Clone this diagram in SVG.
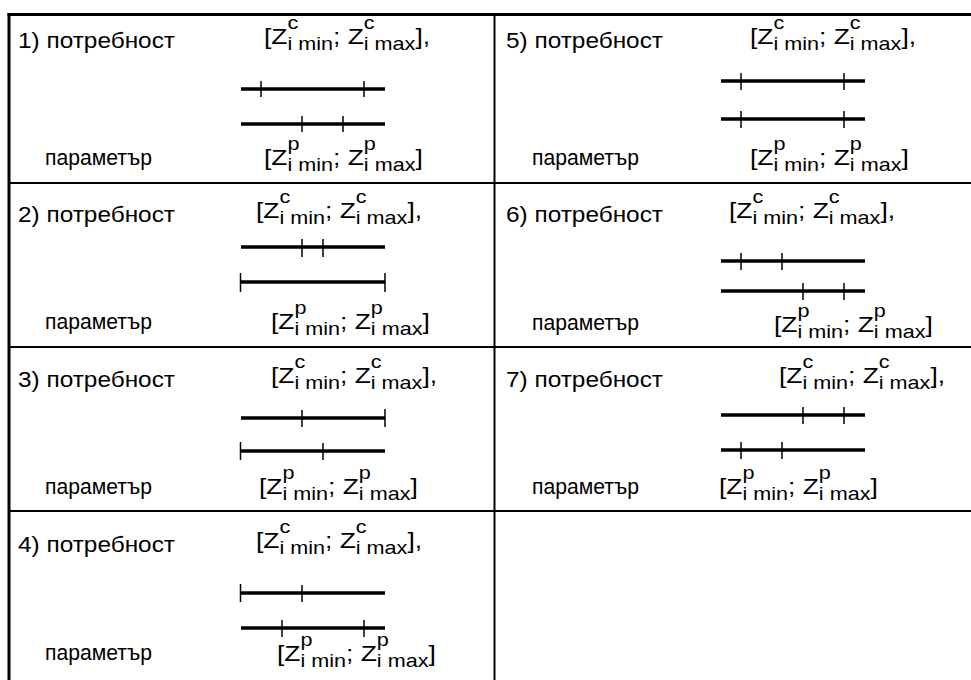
<svg xmlns="http://www.w3.org/2000/svg" width="971" height="680" viewBox="0 0 971 680">
<style>
.t{font-family:"Liberation Sans",Arial,sans-serif;font-size:22px;fill:#000}
.f{font-family:"Liberation Sans",Arial,sans-serif;font-size:22px;fill:#000}
.s{font-size:18px}
.bar{stroke:#000;stroke-width:3.5;fill:none}
.tk{stroke:#000;stroke-width:1.5;fill:none}
.g2{stroke:#000;stroke-width:2;fill:none}
.g3{stroke:#000;stroke-width:3;fill:none}
</style>
<rect x="0" y="0" width="971" height="680" fill="#fff"/>
<g id="grid">
<line class="g3" x1="7.5" y1="14.5" x2="971" y2="14.5"/>
<line class="g3" x1="9" y1="13" x2="9" y2="680"/>
<line class="g2" x1="8" y1="183" x2="971" y2="183"/>
<line class="g2" x1="8" y1="347" x2="971" y2="347"/>
<line class="g2" x1="8" y1="511" x2="971" y2="511"/>
<line class="g2" x1="494.5" y1="14" x2="494.5" y2="680"/>
</g>
<g id="cell1">
<text class="t" x="18" y="48" textLength="157" lengthAdjust="spacingAndGlyphs">1) потребност</text>
<text class="t" x="45" y="165" textLength="107" lengthAdjust="spacingAndGlyphs">параметър</text>
<text class="f" transform="translate(264,44) scale(1.2,1)">[Z<tspan class="s" dy="-15">c</tspan><tspan class="s" dx="-9" dy="21">i min</tspan><tspan dy="-6">; Z</tspan><tspan class="s" dy="-15">c</tspan><tspan class="s" dx="-9" dy="21">i max</tspan><tspan dy="-6">],</tspan></text>
<text class="f" transform="translate(264,165) scale(1.2,1)">[Z<tspan class="s" dy="-15">p</tspan><tspan class="s" dx="-10" dy="21">i min</tspan><tspan dy="-6">; Z</tspan><tspan class="s" dy="-15">p</tspan><tspan class="s" dx="-10" dy="21">i max</tspan><tspan dy="-6">]</tspan></text>
<line class="bar" x1="241" y1="89" x2="385" y2="89"/>
<line class="tk" x1="261" y1="81" x2="261" y2="97"/>
<line class="tk" x1="364" y1="81" x2="364" y2="97"/>
<line class="bar" x1="241" y1="124" x2="385" y2="124"/>
<line class="tk" x1="302" y1="116" x2="302" y2="132"/>
<line class="tk" x1="343" y1="116" x2="343" y2="132"/>
</g>
<g id="cell2">
<text class="t" x="18" y="222" textLength="157" lengthAdjust="spacingAndGlyphs">2) потребност</text>
<text class="t" x="45" y="329" textLength="107" lengthAdjust="spacingAndGlyphs">параметър</text>
<text class="f" transform="translate(256,218) scale(1.2,1)">[Z<tspan class="s" dy="-15">c</tspan><tspan class="s" dx="-9" dy="21">i min</tspan><tspan dy="-6">; Z</tspan><tspan class="s" dy="-15">c</tspan><tspan class="s" dx="-9" dy="21">i max</tspan><tspan dy="-6">],</tspan></text>
<text class="f" transform="translate(271,329) scale(1.2,1)">[Z<tspan class="s" dy="-15">p</tspan><tspan class="s" dx="-10" dy="21">i min</tspan><tspan dy="-6">; Z</tspan><tspan class="s" dy="-15">p</tspan><tspan class="s" dx="-10" dy="21">i max</tspan><tspan dy="-6">]</tspan></text>
<line class="bar" x1="241" y1="247" x2="385" y2="247"/>
<line class="tk" x1="302" y1="239" x2="302" y2="257"/>
<line class="tk" x1="323" y1="239" x2="323" y2="257"/>
<line class="bar" x1="240" y1="282" x2="385" y2="282"/>
<line class="tk" x1="240.5" y1="273" x2="240.5" y2="292"/>
<line class="tk" x1="385" y1="273" x2="385" y2="292"/>
</g>
<g id="cell3">
<text class="t" x="18" y="387" textLength="157" lengthAdjust="spacingAndGlyphs">3) потребност</text>
<text class="t" x="45" y="494" textLength="107" lengthAdjust="spacingAndGlyphs">параметър</text>
<text class="f" transform="translate(271,383) scale(1.2,1)">[Z<tspan class="s" dy="-15">c</tspan><tspan class="s" dx="-9" dy="21">i min</tspan><tspan dy="-6">; Z</tspan><tspan class="s" dy="-15">c</tspan><tspan class="s" dx="-9" dy="21">i max</tspan><tspan dy="-6">],</tspan></text>
<text class="f" transform="translate(259,494) scale(1.2,1)">[Z<tspan class="s" dy="-15">p</tspan><tspan class="s" dx="-10" dy="21">i min</tspan><tspan dy="-6">; Z</tspan><tspan class="s" dy="-15">p</tspan><tspan class="s" dx="-10" dy="21">i max</tspan><tspan dy="-6">]</tspan></text>
<line class="bar" x1="241" y1="418" x2="385" y2="418"/>
<line class="tk" x1="302" y1="410" x2="302" y2="427"/>
<line class="tk" x1="385" y1="409" x2="385" y2="427"/>
<line class="bar" x1="240" y1="451" x2="385" y2="451"/>
<line class="tk" x1="240.5" y1="442" x2="240.5" y2="460"/>
<line class="tk" x1="323" y1="443" x2="323" y2="460"/>
</g>
<g id="cell4">
<text class="t" x="18" y="552" textLength="157" lengthAdjust="spacingAndGlyphs">4) потребност</text>
<text class="t" x="45" y="660" textLength="107" lengthAdjust="spacingAndGlyphs">параметър</text>
<text class="f" transform="translate(256,548) scale(1.2,1)">[Z<tspan class="s" dy="-15">c</tspan><tspan class="s" dx="-9" dy="21">i min</tspan><tspan dy="-6">; Z</tspan><tspan class="s" dy="-15">c</tspan><tspan class="s" dx="-9" dy="21">i max</tspan><tspan dy="-6">],</tspan></text>
<text class="f" transform="translate(277,661) scale(1.2,1)">[Z<tspan class="s" dy="-15">p</tspan><tspan class="s" dx="-10" dy="21">i min</tspan><tspan dy="-6">; Z</tspan><tspan class="s" dy="-15">p</tspan><tspan class="s" dx="-10" dy="21">i max</tspan><tspan dy="-6">]</tspan></text>
<line class="bar" x1="240" y1="593" x2="385" y2="593"/>
<line class="tk" x1="240.5" y1="584" x2="240.5" y2="602"/>
<line class="tk" x1="302" y1="585" x2="302" y2="602"/>
<line class="bar" x1="241" y1="628" x2="385" y2="628"/>
<line class="tk" x1="282" y1="620" x2="282" y2="637"/>
<line class="tk" x1="364" y1="620" x2="364" y2="637"/>
</g>
<g id="cell5">
<text class="t" x="506" y="48" textLength="157" lengthAdjust="spacingAndGlyphs">5) потребност</text>
<text class="t" x="532" y="165" textLength="107" lengthAdjust="spacingAndGlyphs">параметър</text>
<text class="f" transform="translate(750,44) scale(1.2,1)">[Z<tspan class="s" dy="-15">c</tspan><tspan class="s" dx="-9" dy="21">i min</tspan><tspan dy="-6">; Z</tspan><tspan class="s" dy="-15">c</tspan><tspan class="s" dx="-9" dy="21">i max</tspan><tspan dy="-6">],</tspan></text>
<text class="f" transform="translate(750,165) scale(1.2,1)">[Z<tspan class="s" dy="-15">p</tspan><tspan class="s" dx="-10" dy="21">i min</tspan><tspan dy="-6">; Z</tspan><tspan class="s" dy="-15">p</tspan><tspan class="s" dx="-10" dy="21">i max</tspan><tspan dy="-6">]</tspan></text>
<line class="bar" x1="721" y1="81" x2="865" y2="81"/>
<line class="tk" x1="741" y1="73" x2="741" y2="90"/>
<line class="tk" x1="844" y1="73" x2="844" y2="90"/>
<line class="bar" x1="721" y1="119" x2="865" y2="119"/>
<line class="tk" x1="741" y1="111" x2="741" y2="128"/>
<line class="tk" x1="844" y1="111" x2="844" y2="128"/>
</g>
<g id="cell6">
<text class="t" x="506" y="222" textLength="157" lengthAdjust="spacingAndGlyphs">6) потребност</text>
<text class="t" x="532" y="330" textLength="107" lengthAdjust="spacingAndGlyphs">параметър</text>
<text class="f" transform="translate(729,218) scale(1.2,1)">[Z<tspan class="s" dy="-15">c</tspan><tspan class="s" dx="-9" dy="21">i min</tspan><tspan dy="-6">; Z</tspan><tspan class="s" dy="-15">c</tspan><tspan class="s" dx="-9" dy="21">i max</tspan><tspan dy="-6">],</tspan></text>
<text class="f" transform="translate(774,332) scale(1.2,1)">[Z<tspan class="s" dy="-15">p</tspan><tspan class="s" dx="-10" dy="21">i min</tspan><tspan dy="-6">; Z</tspan><tspan class="s" dy="-15">p</tspan><tspan class="s" dx="-10" dy="21">i max</tspan><tspan dy="-6">]</tspan></text>
<line class="bar" x1="721" y1="261" x2="865" y2="261"/>
<line class="tk" x1="741" y1="253" x2="741" y2="270"/>
<line class="tk" x1="782" y1="253" x2="782" y2="270"/>
<line class="bar" x1="721" y1="291" x2="865" y2="291"/>
<line class="tk" x1="803" y1="283" x2="803" y2="300"/>
<line class="tk" x1="844" y1="283" x2="844" y2="300"/>
</g>
<g id="cell7">
<text class="t" x="506" y="387" textLength="157" lengthAdjust="spacingAndGlyphs">7) потребност</text>
<text class="t" x="532" y="494" textLength="107" lengthAdjust="spacingAndGlyphs">параметър</text>
<text class="f" transform="translate(779,383) scale(1.2,1)">[Z<tspan class="s" dy="-15">c</tspan><tspan class="s" dx="-9" dy="21">i min</tspan><tspan dy="-6">; Z</tspan><tspan class="s" dy="-15">c</tspan><tspan class="s" dx="-9" dy="21">i max</tspan><tspan dy="-6">],</tspan></text>
<text class="f" transform="translate(719,494) scale(1.2,1)">[Z<tspan class="s" dy="-15">p</tspan><tspan class="s" dx="-10" dy="21">i min</tspan><tspan dy="-6">; Z</tspan><tspan class="s" dy="-15">p</tspan><tspan class="s" dx="-10" dy="21">i max</tspan><tspan dy="-6">]</tspan></text>
<line class="bar" x1="721" y1="415" x2="865" y2="415"/>
<line class="tk" x1="803" y1="407" x2="803" y2="424"/>
<line class="tk" x1="844" y1="407" x2="844" y2="424"/>
<line class="bar" x1="721" y1="450" x2="865" y2="450"/>
<line class="tk" x1="741" y1="442" x2="741" y2="459"/>
<line class="tk" x1="782" y1="442" x2="782" y2="459"/>
</g>
</svg>
